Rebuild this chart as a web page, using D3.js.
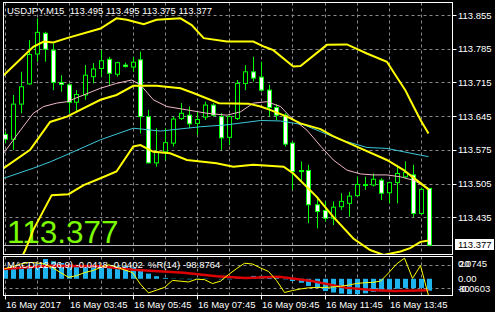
<!DOCTYPE html>
<html>
<head>
<meta charset="utf-8">
<script src="https://cdn.jsdelivr.net/npm/d3@7"></script>
<style>
body { margin: 0; background: #000; }
svg { display: block; }
text { font-family: "Liberation Sans", Arial, sans-serif; }
</style>
</head>
<body>
<div id="chart"></div>
<script>
// USDJPY M15 candles
var opens  = [113.607,113.597,113.670,113.712,113.774,113.817,113.782,113.715,113.710,113.674,113.689,113.727,113.744,113.763,113.732,113.751,113.747,113.762,113.644,113.548,113.571,113.589,113.640,113.647,113.630,113.643,113.668,113.644,113.601,113.640,113.713,113.737,113.726,113.699,113.663,113.647,113.589,113.532,113.532,113.461,113.449,113.433,113.457,113.464,113.480,113.501,113.502,113.512,113.486,113.507,113.519,113.523,113.443,113.495];
var highs  = [113.613,113.689,113.737,113.803,113.848,113.820,113.796,113.730,113.713,113.699,113.751,113.755,113.782,113.768,113.758,113.756,113.768,113.779,113.658,113.620,113.620,113.644,113.672,113.665,113.654,113.675,113.672,113.651,113.647,113.720,113.751,113.768,113.758,113.710,113.670,113.651,113.592,113.551,113.544,113.478,113.468,113.468,113.485,113.488,113.519,113.519,113.526,113.516,113.509,113.544,113.551,113.544,113.497,113.495];
var lows   = [113.589,113.575,113.651,113.710,113.758,113.758,113.699,113.696,113.651,113.654,113.679,113.713,113.727,113.710,113.727,113.746,113.737,113.609,113.547,113.540,113.554,113.582,113.637,113.620,113.606,113.637,113.644,113.575,113.585,113.637,113.699,113.717,113.696,113.644,113.637,113.582,113.492,113.509,113.423,113.412,113.426,113.419,113.450,113.436,113.478,113.492,113.499,113.471,113.464,113.464,113.516,113.436,113.440,113.375];
var closes = [113.597,113.670,113.706,113.773,113.819,113.784,113.715,113.711,113.674,113.690,113.730,113.743,113.760,113.734,113.756,113.748,113.757,113.644,113.548,113.571,113.590,113.639,113.651,113.629,113.638,113.668,113.647,113.600,113.644,113.713,113.737,113.724,113.699,113.663,113.647,113.587,113.530,113.530,113.461,113.447,113.433,113.456,113.468,113.479,113.503,113.503,113.514,113.485,113.507,113.526,113.528,113.443,113.493,113.377];

// bollinger bands + moving averages, [bar, price]
var bandUpper = [[-0.1,113.730],[3.6,113.789],[4.9,113.800],[6.1,113.798],[7.8,113.807],[12,113.827],[14,113.848],[15.3,113.845],[17.4,113.836],[19,113.845],[22,113.848],[23.4,113.834],[24.9,113.807],[27.8,113.800],[31.1,113.800],[32.5,113.789],[33.6,113.782],[36.1,113.748],[37,113.749],[40.3,113.793],[42.8,113.794],[45.3,113.775],[47.8,113.758],[48.6,113.737],[50.1,113.699],[50.7,113.679],[52,113.637],[53,113.609]];
var bandMiddle = [[-0.1,113.537],[3.2,113.575],[5.7,113.633],[7.8,113.644],[12,113.679],[14,113.689],[16.1,113.708],[19,113.708],[22,113.703],[23.6,113.693],[26.8,113.672],[30.5,113.671],[32,113.665],[33.2,113.658],[35.3,113.644],[37,113.630],[39.5,113.618],[41,113.604],[43.6,113.585],[47.8,113.554],[49.9,113.533],[52,113.506],[53,113.493]];
var bandLower = [[1.5,113.330],[2.6,113.367],[3.6,113.409],[5.9,113.481],[8,113.483],[9.9,113.502],[12,113.516],[14,113.530],[16.1,113.582],[17,113.585],[18.6,113.571],[20.7,113.568],[22.8,113.554],[24.5,113.551],[26.5,113.547],[28.6,113.540],[31.1,113.544],[34.9,113.540],[36.1,113.526],[39,113.478],[41.1,113.436],[43.6,113.391],[45.7,113.367],[47.4,113.357],[49.5,113.364],[50.7,113.371],[52,113.384],[53,113.387]];
var maFast = [[-0.1,113.568],[2,113.616],[3.6,113.651],[4.9,113.665],[6.5,113.672],[7.8,113.675],[9.9,113.689],[12,113.703],[14,113.713],[15.9,113.720],[17,113.710],[18.6,113.679],[20.3,113.665],[22.8,113.658],[25.3,113.651],[27.8,113.647],[29.5,113.654],[31.1,113.672],[32.8,113.675],[34.5,113.665],[35.7,113.644],[37.8,113.616],[39.5,113.583],[41.1,113.554],[42.8,113.533],[44.5,113.525],[46.1,113.523],[47.8,113.523],[49.5,113.519],[51.1,113.512],[53,113.495]];
var maSlow = [[-0.1,113.516],[3.6,113.537],[5.7,113.550],[7.8,113.565],[12,113.596],[16.1,113.620],[19.5,113.614],[24.5,113.623],[27.8,113.627],[32,113.636],[34.5,113.635],[37.4,113.627],[39.5,113.613],[42,113.596],[45.3,113.580],[47.8,113.578],[52,113.564],[53,113.561]];

// MACD(12,26,9) and %R(14)
var macdMain = [0.032,0.035,0.038,0.044,0.050,0.069,0.061,0.055,0.050,0.047,0.044,0.044,0.046,0.046,0.044,0.044,0.040,0.032,0.018,0.009,0.003,0.001,-0.001,-0.002,-0.001,0.001,0.000,-0.002,-0.002,0.002,0.006,0.010,0.010,0.008,0.004,-0.002,-0.008,-0.014,-0.025,-0.032,-0.043,-0.048,-0.052,-0.054,-0.054,-0.051,-0.046,-0.044,-0.039,-0.035,-0.032,-0.033,-0.032,-0.0418];
var macdSignal = [[-0.1,0.0346],[5.7,0.046],[12,0.044],[16.1,0.032],[22.4,0.021],[26.5,0.009],[30.1,0.003],[34.3,0.007],[38.4,-0.008],[42.6,-0.031],[45.9,-0.039],[48.8,-0.043],[53,-0.0402]];
var wpr = [-30,-25,-18,-14,-15,-18,-27,-40,-52,-48,-40,-35,-27,-20,-26,-33,-40,-70,-92,-85,-78,-60,-62,-64,-57,-58,-68,-62,-45,-30,-16,-18,-28,-37,-60,-91,-86,-82,-79,-78,-78,-77,-75,-72,-68,-66,-65,-62,-41,-18,-3,-55,-22,-98.88];

var priceTicks = [113.855, 113.785, 113.715, 113.645, 113.575, 113.505, 113.435];
var timeBars = [0, 8, 16, 24, 32, 40, 48];
var timeLabels = ["16 May 2017", "16 May 03:45", "16 May 05:45", "16 May 07:45", "16 May 09:45", "16 May 11:45", "16 May 13:45"];
var title = "USDJPY,M15  113.495 113.495 113.375 113.377";
var subTitle = "MACD(12,26,9) -0.0418 -0.0402  %R(14) -98.8764";
var lastPrice = 113.377;

var paneLeft = 3.5, paneRight = 452.5;
var mainTop = 2.5, mainBottom = 254.5;
var subTop = 256.5, subBottom = 295.5;
var gridColor = "#8a8a8a";
var candleColor = "#00ff00";

var svg = d3.select("#chart").append("svg")
        .attr("width", 495)
        .attr("height", 312)
        .style("background", "#000");

var x = d3.scaleLinear().domain([0, 53]).range([4.5, 428.5]);
var y = d3.scaleLinear().domain([113.435, 113.855]).range([217.3, 15]);
var yMacd = d3.scaleLinear().domain([-0.0603, 0.0745]).range([296, 257.5]);
var yWpr = d3.scaleLinear().domain([-100, 0]).range([296, 257]);

svg.append("clipPath").attr("id", "clipMain").append("rect")
        .attr("x", paneLeft).attr("y", mainTop)
        .attr("width", paneRight - paneLeft).attr("height", mainBottom - mainTop);
svg.append("clipPath").attr("id", "clipSub").append("rect")
        .attr("x", paneLeft).attr("y", subTop)
        .attr("width", paneRight - paneLeft).attr("height", subBottom - subTop);

// grid
var grid = svg.append("g")
        .attr("stroke", gridColor)
        .attr("stroke-width", 1)
        .attr("stroke-dasharray", "3,3");
var gridBars = d3.range(0, 54, 4);
grid.selectAll(".vm").data(gridBars).enter().append("line")
        .attr("x1", function(d) { return Math.round(x(d)) + 0.5; })
        .attr("x2", function(d) { return Math.round(x(d)) + 0.5; })
        .attr("y1", mainTop).attr("y2", mainBottom);
grid.selectAll(".vs").data(gridBars).enter().append("line")
        .attr("x1", function(d) { return Math.round(x(d)) + 0.5; })
        .attr("x2", function(d) { return Math.round(x(d)) + 0.5; })
        .attr("y1", subTop).attr("y2", subBottom);
grid.selectAll(".hm").data(priceTicks).enter().append("line")
        .attr("x1", paneLeft).attr("x2", paneRight)
        .attr("y1", function(d) { return Math.round(y(d)) + 0.5; })
        .attr("y2", function(d) { return Math.round(y(d)) + 0.5; });
grid.selectAll(".hs").data([-20, -80]).enter().append("line")
        .attr("x1", paneLeft).attr("x2", paneRight)
        .attr("y1", function(d) { return Math.round(yWpr(d)) + 0.5; })
        .attr("y2", function(d) { return Math.round(yWpr(d)) + 0.5; });

// bid line
svg.append("line")
        .attr("x1", paneLeft).attr("x2", paneRight)
        .attr("y1", Math.round(y(lastPrice)) + 0.5)
        .attr("y2", Math.round(y(lastPrice)) + 0.5)
        .attr("stroke", "#b4b4b4")
        .attr("stroke-width", 1);

// big price label
svg.append("text")
        .attr("x", 7)
        .attr("y", 243)
        .attr("fill", "#7cfc00")
        .attr("font-size", "31.5px")
        .text(lastPrice.toFixed(3));

// candles
var main = svg.append("g").attr("clip-path", "url(#clipMain)");
var idx = d3.range(opens.length);
main.selectAll(".wick").data(idx).enter().append("line")
        .attr("x1", function(i) { return Math.round(x(i)) + 0.5; })
        .attr("x2", function(i) { return Math.round(x(i)) + 0.5; })
        .attr("y1", function(i) { return y(highs[i]); })
        .attr("y2", function(i) { return y(lows[i]); })
        .attr("stroke", candleColor)
        .attr("stroke-width", 1);
main.selectAll(".body").data(idx).enter().append("rect")
        .attr("x", function(i) { return Math.round(x(i)) - 1.5; })
        .attr("y", function(i) { return Math.min(y(opens[i]), y(closes[i])); })
        .attr("width", 4)
        .attr("height", function(i) { return Math.max(1, Math.abs(y(opens[i]) - y(closes[i]))); })
        .attr("fill", function(i) { return closes[i] < opens[i] ? "#ffffff" : "#000000"; })
        .attr("stroke", candleColor)
        .attr("stroke-width", 1);

// indicator lines
var line = d3.line()
        .x(function(d) { return x(d[0]); })
        .y(function(d) { return y(d[1]); });
main.append("path").datum(maSlow)
        .attr("d", line).attr("fill", "none")
        .attr("stroke", "#3cc8d8").attr("stroke-width", 1);
main.append("path").datum(maFast)
        .attr("d", line).attr("fill", "none")
        .attr("stroke", "#f0b8c8").attr("stroke-width", 1);
[bandUpper, bandMiddle, bandLower].forEach(function(band) {
    main.append("path").datum(band)
            .attr("d", line).attr("fill", "none")
            .attr("stroke", "#ffff00").attr("stroke-width", 2);
});

// sub window
var sub = svg.append("g").attr("clip-path", "url(#clipSub)");
sub.selectAll(".hist").data(idx).enter().append("rect")
        .attr("x", function(i) { return Math.round(x(i)) - 2; })
        .attr("y", function(i) { return Math.min(yMacd(0), yMacd(macdMain[i])); })
        .attr("width", 5)
        .attr("height", function(i) { return Math.abs(yMacd(macdMain[i]) - yMacd(0)); })
        .attr("fill", "#1eb4f0");
sub.append("path").datum(macdSignal)
        .attr("d", d3.line()
            .x(function(d) { return x(d[0]); })
            .y(function(d) { return yMacd(d[1]); }))
        .attr("fill", "none")
        .attr("stroke", "#dd0000").attr("stroke-width", 2.5);
sub.append("path").datum(wpr)
        .attr("d", d3.line()
            .x(function(d, i) { return x(i); })
            .y(function(d) { return yWpr(d); }))
        .attr("fill", "none")
        .attr("stroke", "#ffff00").attr("stroke-width", 1);
sub.append("text")
        .attr("x", 7).attr("y", 268)
        .attr("fill", "#ffffff")
        .attr("font-size", "9.5px")
        .attr("xml:space", "preserve")
        .style("white-space", "pre")
        .text(subTitle);

// frames
svg.append("rect")
        .attr("x", paneLeft).attr("y", mainTop)
        .attr("width", paneRight - paneLeft).attr("height", mainBottom - mainTop)
        .attr("fill", "none").attr("stroke", "#ffffff");
svg.append("rect")
        .attr("x", paneLeft).attr("y", subTop)
        .attr("width", paneRight - paneLeft).attr("height", subBottom - subTop)
        .attr("fill", "none").attr("stroke", "#ffffff");

// title
svg.append("text")
        .attr("x", 7).attr("y", 14)
        .attr("fill", "#ffffff")
        .attr("font-size", "9.5px")
        .attr("xml:space", "preserve")
        .style("white-space", "pre")
        .text(title);

// price axis
var axisG = svg.append("g");
axisG.selectAll(".pt").data(priceTicks).enter().append("line")
        .attr("x1", paneRight).attr("x2", paneRight + 4)
        .attr("y1", function(d) { return Math.round(y(d)) + 0.5; })
        .attr("y2", function(d) { return Math.round(y(d)) + 0.5; })
        .attr("stroke", "#ffffff");
axisG.selectAll(".pl").data(priceTicks).enter().append("text")
        .attr("x", 458)
        .attr("y", function(d) { return y(d) + 3.5; })
        .attr("fill", "#ffffff")
        .attr("font-size", "9.5px")
        .text(function(d) { return d.toFixed(3); });
axisG.append("rect")
        .attr("x", 455).attr("y", 239)
        .attr("width", 39).attr("height", 11)
        .attr("fill", "#ffffff");
axisG.append("text")
        .attr("x", 458).attr("y", 248)
        .attr("fill", "#000000")
        .attr("font-size", "9.5px")
        .text(lastPrice.toFixed(3));

// sub window scale labels (macd range, zero, %R levels drawn on top)
var subLabels = [[266.7, "0.0745"], [282.3, "0.00"], [292.3, "-0.0603"], [266.7, "20"], [292.3, "80"]];
axisG.selectAll(".sl").data(subLabels).enter().append("text")
        .attr("x", function(d) { return d[1].length == 2 ? 459 : 458; })
        .attr("y", function(d) { return d[0]; })
        .attr("fill", "#ffffff")
        .attr("font-size", "9.5px")
        .text(function(d) { return d[1]; });

// time axis
axisG.selectAll(".tt").data(timeBars).enter().append("line")
        .attr("x1", function(d) { return Math.round(x(d)) + 0.5; })
        .attr("x2", function(d) { return Math.round(x(d)) + 0.5; })
        .attr("y1", subBottom).attr("y2", subBottom + 4)
        .attr("stroke", "#ffffff");
axisG.selectAll(".tl").data(timeBars).enter().append("text")
        .attr("x", function(d) { return Math.round(x(d)) + 1; })
        .attr("y", 308)
        .attr("fill", "#ffffff")
        .attr("font-size", "9.5px")
        .text(function(d, i) { return timeLabels[i]; });
</script>
</body>
</html>
